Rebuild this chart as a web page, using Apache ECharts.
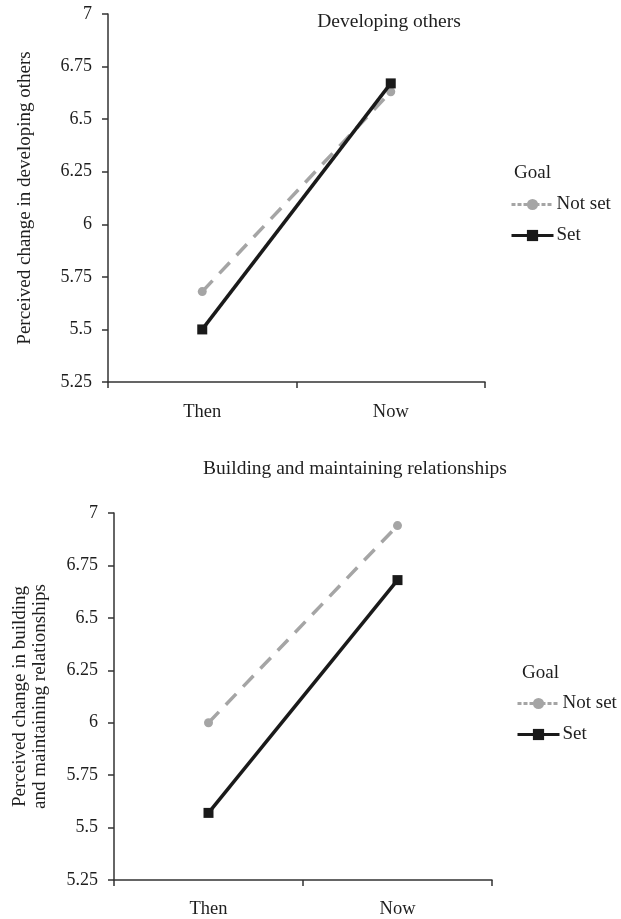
<!DOCTYPE html>
<html><head><meta charset="utf-8">
<script src="https://cdn.jsdelivr.net/npm/echarts@6/dist/echarts.min.js"></script>
<style>html,body{margin:0;padding:0;background:#fff}#c{width:621px;height:919px}</style>
</head><body><div id="c"></div>
<script>
const categories = ['Then', 'Now'];
const seriesNames = ['Not set', 'Set'];
const devNotSet = [5.68, 6.63];
const devSet = [5.50, 6.67];
const relNotSet = [6.00, 6.94];
const relSet = [5.57, 6.68];
const titles = ['Developing others', 'Building and maintaining relationships'];
const yNames = ['Perceived change in developing others', 'Perceived change in building\nand maintaining relationships'];
const legendTitle = 'Goal';

const FONT = '"Liberation Serif", "DejaVu Serif", serif';
const TXT = '#1e1e1e';
const GRAY = '#a5a5a5';
const DARK = '#1a1a1a';
const chart = echarts.init(document.getElementById('c'));

function xAx(gi, margin) {
  return {
    type: 'category', gridIndex: gi, data: categories, boundaryGap: true,
    axisLine: { lineStyle: { color: '#333', width: 1.5 } },
    axisTick: { show: true, alignWithLabel: false, length: 6, lineStyle: { color: '#333', width: 1.5 } },
    axisLabel: { color: TXT, fontFamily: FONT, fontSize: 18.5, margin: margin },
    splitLine: { show: false }
  };
}
function yAx(gi, name, gap) {
  return {
    type: 'value', gridIndex: gi, min: 5.25, max: 7, interval: 0.25,
    name: name, nameLocation: 'middle', nameGap: gap, nameRotate: 90,
    nameTextStyle: { color: TXT, fontFamily: FONT, fontSize: 19, lineHeight: 20 },
    axisLine: { show: true, lineStyle: { color: '#333', width: 1.5 } },
    axisTick: { show: true, length: 6, lineStyle: { color: '#333', width: 1.5 } },
    axisLabel: { color: TXT, fontFamily: FONT, fontSize: 18, margin: 16 },
    splitLine: { show: false }
  };
}
function notSetSeries(gi, data) {
  return {
    name: seriesNames[0], type: 'line', xAxisIndex: gi, yAxisIndex: gi, data: data,
    symbol: 'circle', symbolSize: 9,
    lineStyle: { color: GRAY, width: 3.5, type: [15, 10] },
    itemStyle: { color: GRAY }, z: 2, animation: false
  };
}
function setSeries(gi, data) {
  return {
    name: seriesNames[1], type: 'line', xAxisIndex: gi, yAxisIndex: gi, data: data,
    symbol: 'rect', symbolSize: 10,
    lineStyle: { color: DARK, width: 3.5 },
    itemStyle: { color: DARK }, z: 3, animation: false
  };
}
function legend(top, left) {
  return {
    data: [
      { name: seriesNames[0], lineStyle: { color: GRAY, width: 3, type: [4, 2] } },
      { name: seriesNames[1], lineStyle: { color: DARK, width: 3, type: 'solid' } }
    ],
    orient: 'vertical', left: left, top: top, itemGap: 12,
    itemWidth: 42, itemHeight: 14, selectedMode: false, padding: 0,
    textStyle: { color: TXT, fontFamily: FONT, fontSize: 19, padding: [0, 0, 0, -2] }
  };
}
function ttl(text, left, top, size, align) {
  return { text: text, left: left, top: top, textAlign: align, padding: 0,
    textStyle: { color: TXT, fontFamily: FONT, fontSize: size, fontWeight: 'normal' } };
}

chart.setOption({
  animation: false,
  title: [
    ttl(titles[0], 389, 12, 19.5, 'center'),
    ttl(titles[1], 355, 459, 19.5, 'center'),
    ttl(legendTitle, 514, 164, 19, 'left'),
    ttl(legendTitle, 522, 664, 19, 'left')
  ],
  legend: [legend(195, 510), legend(694, 516)],
  grid: [
    { left: 108, top: 14, width: 377, height: 368 },
    { left: 114, top: 513, width: 378, height: 370 }
  ],
  xAxis: [xAx(0, 21), xAx(1, 20)],
  yAxis: [yAx(0, yNames[0], 73), yAx(1, yNames[1], 64)],
  series: [
    notSetSeries(0, devNotSet), setSeries(0, devSet),
    notSetSeries(1, relNotSet), setSeries(1, relSet)
  ]
});
</script></body></html>
